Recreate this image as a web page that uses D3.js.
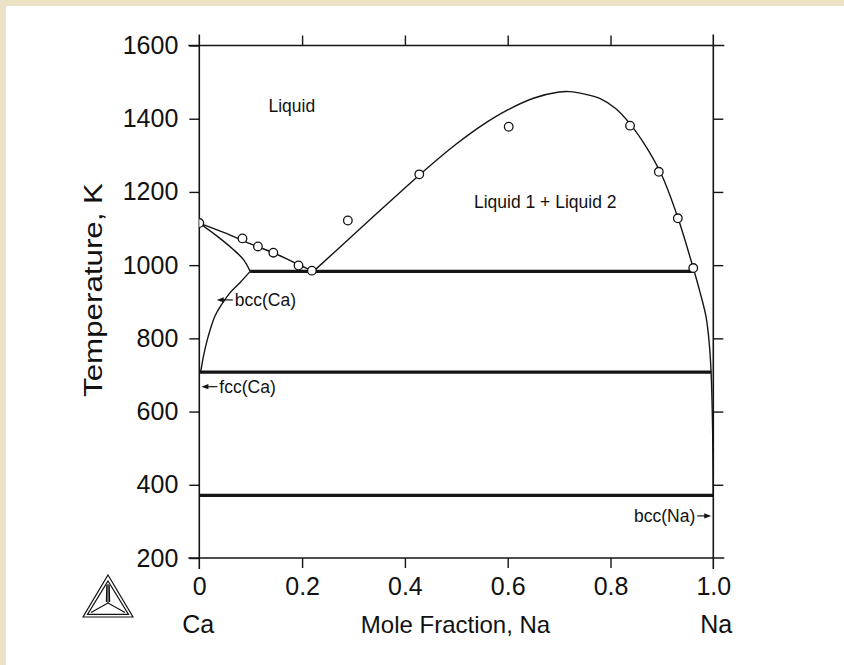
<!DOCTYPE html>
<html>
<head>
<meta charset="utf-8">
<script src="https://cdn.jsdelivr.net/npm/d3@7/dist/d3.min.js"></script>
<style>
  html, body { margin: 0; padding: 0; background: #ffffff; }
  svg { display: block; }
  text { font-family: "Liberation Sans", Arial, Helvetica, sans-serif; fill: #111; }
</style>
</head>
<body>
<svg id="chart" width="844" height="665"></svg>
<script>
// Ca–Na phase diagram: temperature (K) against mole fraction of Na

const xTickValues = [0, 0.2, 0.4, 0.6, 0.8, 1.0];
const xTickLabels = ["0", "0.2", "0.4", "0.6", "0.8", "1.0"];
const tTickValues = [200, 400, 600, 800, 1000, 1200, 1400, 1600];
const tTickLabels = ["200", "400", "600", "800", "1000", "1200", "1400", "1600"];

// liquidus on the Ca-rich side, down to the monotectic liquid
const liquidusCa = [[0, 1115], [0.05, 1088], [0.1, 1058], [0.15, 1030], [0.2, 997], [0.222, 983]];

// liquid miscibility gap and Na-rich liquidus
const liquidGap = [[0.222, 983], [0.3, 1083], [0.4, 1211], [0.45, 1273], [0.5, 1331],
  [0.55, 1382], [0.6, 1424], [0.65, 1456], [0.7, 1473], [0.72, 1474], [0.75, 1467],
  [0.78, 1455], [0.81, 1428], [0.838, 1386], [0.87, 1322], [0.9, 1245], [0.931, 1130],
  [0.961, 992], [0.974, 927], [0.986, 858], [0.992, 788], [0.9955, 714], [0.998, 600],
  [0.9993, 480], [1.0, 371]];

// bcc(Ca) solidus and solvus
const bccSolidus = [[0, 1115], [0.034, 1080], [0.066, 1043], [0.086, 1015], [0.099, 983]];
const bccSolvus = [[0.099, 983], [0.079, 952], [0.06, 925], [0.0436, 893], [0.0305, 861],
  [0.0175, 806], [0.008, 751], [0.0027, 712], [0.001, 708]];

// invariant reactions: [temperature, x start, x end]
const invariants = [[983, 0.099, 0.963], [708, 0, 0.996], [371, 0, 1.0]];

// experimental liquidus / miscibility gap points
const measured = [[0.0, 1115], [0.084, 1073], [0.114, 1051], [0.144, 1034], [0.193, 999],
  [0.219, 985], [0.289, 1122], [0.428, 1248], [0.602, 1378], [0.838, 1381], [0.894, 1255],
  [0.931, 1128], [0.961, 992]];

// region labels: [text, x, T]
const regionLabels = [["Liquid", 0.18, 1435], ["Liquid 1 + Liquid 2", 0.673, 1173]];

// phase labels with arrows: [text, tip x, tip T, side]
const phaseArrows = [["bcc(Ca)", 0.034, 905, "right"], ["fcc(Ca)", 0.004, 668, "right"],
  ["bcc(Na)", 0.996, 315, "left"]];

const svg = d3.select("#chart");
const W = 844, H = 665;

// page backdrop with its cream edge strips
svg.append("rect").attr("width", W).attr("height", H).attr("fill", "#ffffff");
svg.append("rect").attr("x", 0).attr("y", 0).attr("width", W).attr("height", 6).attr("fill", "#ebe2c6");
svg.append("rect").attr("x", 0).attr("y", 0).attr("width", 6).attr("height", H).attr("fill", "#ebe2c6");

const sx = d3.scaleLinear().domain([0, 1]).range([199.3, 713.3]);
const sy = d3.scaleLinear().domain([200, 1600]).range([558, 45.5]);

const ink = "#141414";
const ext = 11;

// frame lines, extended past the corners
const x0 = sx(0), x1 = sx(1), yT = sy(1600), yB = sy(200);
const frame = svg.append("g").attr("stroke", ink).attr("stroke-width", 1.6);
frame.append("line").attr("x1", x0).attr("x2", x0).attr("y1", yT - ext).attr("y2", yB + ext);
frame.append("line").attr("x1", x1).attr("x2", x1).attr("y1", yT - ext).attr("y2", yB + ext);
frame.append("line").attr("x1", x0 - ext).attr("x2", x1 + ext).attr("y1", yT).attr("y2", yT);
frame.append("line").attr("x1", x0 - ext).attr("x2", x1 + ext).attr("y1", yB).attr("y2", yB);

// axes
function styleAxis(g) {
  g.select(".domain").remove();
  g.selectAll(".tick line").attr("stroke", ink).attr("stroke-width", 1.4);
  g.selectAll(".tick text").style("font-size", "25px").attr("fill", "#111");
}
const axLeft = svg.append("g").attr("transform", `translate(${x0},0)`)
  .call(d3.axisLeft(sy).tickValues(tTickValues).tickSize(10).tickPadding(11)
    .tickFormat((d, i) => tTickLabels[i]));
styleAxis(axLeft);
const axRight = svg.append("g").attr("transform", `translate(${x1},0)`)
  .call(d3.axisRight(sy).tickValues(tTickValues.slice(1, -1)).tickSize(10).tickFormat(""));
styleAxis(axRight);
const axBottom = svg.append("g").attr("transform", `translate(0,${yB})`)
  .call(d3.axisBottom(sx).tickValues(xTickValues).tickSize(10).tickPadding(9)
    .tickFormat((d, i) => xTickLabels[i]));
styleAxis(axBottom);
axBottom.selectAll(".tick line").filter(d => d === 0 || d === 1).remove();
const axTop = svg.append("g").attr("transform", `translate(0,${yT})`)
  .call(d3.axisTop(sx).tickValues(xTickValues.slice(1, -1)).tickSize(10).tickFormat(""));
styleAxis(axTop);

// axis titles
svg.append("text").attr("x", 455.5).attr("y", 633).attr("text-anchor", "middle")
  .style("font-size", "24px").text("Mole Fraction, Na");
svg.append("text").attr("x", sx(0) - 1).attr("y", 633).attr("text-anchor", "middle")
  .style("font-size", "25px").text("Ca");
svg.append("text").attr("x", sx(1) + 3).attr("y", 633).attr("text-anchor", "middle")
  .style("font-size", "25px").text("Na");
svg.append("text").attr("transform", "translate(102,290) rotate(-90)")
  .attr("text-anchor", "middle").style("font-size", "26px")
  .attr("textLength", 214).attr("lengthAdjust", "spacingAndGlyphs")
  .text("Temperature, K");

// plot contents, clipped to the frame
svg.append("clipPath").attr("id", "plotClip").append("rect")
  .attr("x", x0).attr("y", yT).attr("width", x1 - x0).attr("height", yB - yT);
const plot = svg.append("g").attr("clip-path", "url(#plotClip)");

const line = d3.line().x(d => sx(d[0])).y(d => sy(d[1])).curve(d3.curveCatmullRom.alpha(0.5));
[liquidusCa, liquidGap, bccSolidus, bccSolvus].forEach(pts => {
  plot.append("path").attr("d", line(pts)).attr("fill", "none")
    .attr("stroke", ink).attr("stroke-width", 1.4);
});

plot.selectAll("line.inv").data(invariants).join("line").attr("class", "inv")
  .attr("x1", d => sx(d[1])).attr("x2", d => sx(d[2]))
  .attr("y1", d => sy(d[0])).attr("y2", d => sy(d[0]))
  .attr("stroke", ink).attr("stroke-width", 3.2);

plot.selectAll("circle.pt").data(measured).join("circle").attr("class", "pt")
  .attr("cx", d => sx(d[0])).attr("cy", d => sy(d[1])).attr("r", 4.3)
  .attr("fill", "#ffffff").attr("stroke", ink).attr("stroke-width", 1.3);

// region labels
svg.selectAll("text.region").data(regionLabels).join("text").attr("class", "region")
  .attr("x", d => sx(d[1])).attr("y", d => sy(d[2])).attr("dy", "0.35em")
  .attr("text-anchor", "middle").style("font-size", "17.5px").text(d => d[0]);

// phase labels with arrows
phaseArrows.forEach(([label, px, pt, side]) => {
  const tx = sx(px), ty = sy(pt);
  const dir = side === "right" ? 1 : -1;
  const len = side === "right" ? 16 : 14;
  const tail = tx + dir * len;
  svg.append("line").attr("x1", tx + dir * 5).attr("x2", tail).attr("y1", ty).attr("y2", ty)
    .attr("stroke", ink).attr("stroke-width", 1.2);
  svg.append("path")
    .attr("d", `M${tx},${ty} L${tx + dir * 7},${ty - 2.6} L${tx + dir * 7},${ty + 2.6} Z`)
    .attr("fill", ink);
  svg.append("text").attr("x", tail + dir * 2).attr("y", ty).attr("dy", "0.35em")
    .attr("text-anchor", side === "right" ? "start" : "end")
    .style("font-size", "17.5px").text(label);
});

// software emblem: nested triangles with spokes from the centre
const logo = svg.append("g").attr("fill", "none").attr("stroke", ink).attr("stroke-width", 1.2);
const ax = 108, ay = 575, bl = 83, br = 133, by = 617;
logo.append("path").attr("d", `M${ax},${ay} L${br},${by} L${bl},${by} Z`);
logo.append("path").attr("d", `M${ax},${ay + 6} L${br - 4.5},${by - 2.6} L${bl + 4.5},${by - 2.6} Z`);
const cx = 108, cy = 603;
const inner = [[ax, ay + 9], [br - 8, by - 4.5], [bl + 8, by - 4.5]];
inner.forEach(([vx, vy]) => {
  logo.append("line").attr("x1", cx).attr("y1", cy).attr("x2", vx).attr("y2", vy);
});
logo.append("line").attr("x1", cx + 1.6).attr("y1", cy - 1).attr("x2", ax + 1.2).attr("y2", ay + 10);
logo.append("line").attr("x1", cx - 1.6).attr("y1", cy - 1).attr("x2", ax - 1.2).attr("y2", ay + 10);
</script>
</body>
</html>
